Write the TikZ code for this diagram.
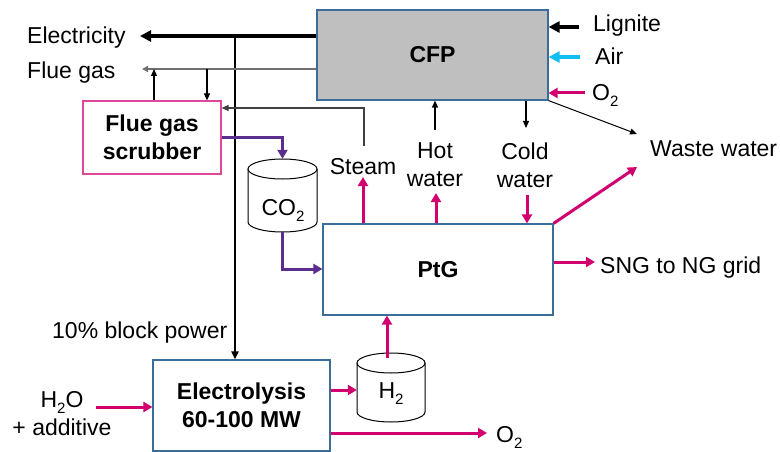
\documentclass[tikz,border=0pt]{standalone}
\usepackage{fontspec}
\setmainfont{Liberation Sans}
\usetikzlibrary{arrows.meta}
\definecolor{boxblue}{HTML}{3A6D99}
\definecolor{pk}{HTML}{D1006E}
\definecolor{pur}{HTML}{5B2E8E}
\definecolor{cy}{HTML}{12BDF0}
\definecolor{cfpgray}{HTML}{BFBFBF}
\definecolor{scrpink}{HTML}{E0479A}
\definecolor{lg}{HTML}{707070}
\definecolor{dg}{HTML}{404040}
\newcommand\myfs{\fontsize{23}{28}\selectfont}
\newcommand\mysub[1]{\raisebox{-6pt}{\fontsize{15}{15}\selectfont #1}}
\newcommand\mycyl[5]{%
 \filldraw[fill=white, draw=black, line width=1pt] ({#1-#2},#3) -- ({#1-#2},#4) .. controls ({#1-#2},{#4+0.5523*#5}) and ({#1-0.5523*#2},{#4+#5}) .. (#1,{#4+#5}) .. controls ({#1+0.5523*#2},{#4+#5}) and ({#1+#2},{#4+0.5523*#5}) .. ({#1+#2},#4) -- ({#1+#2},#3);
 \draw[line width=1pt, fill=white] (#1,#3) ellipse [x radius=#2, y radius=#5];
}
\begin{document}
\begin{tikzpicture}[x=1pt,y=-1pt,
  box/.style={draw=boxblue, line width=1.2pt, inner sep=0, align=center, font=\myfs\bfseries},
  lbl/.style={inner sep=0, font=\myfs, align=center},
  pa/.style={draw=pk, line width=3pt, -{Triangle[length=9pt,width=10pt]}},
  pua/.style={draw=pur, line width=3pt, -{Triangle[length=9pt,width=10pt]}},
  ta/.style={draw=black, line width=1.2pt, -{Triangle[length=7pt,width=6pt]}},
  tka/.style={line width=3.5pt, -{Triangle[length=11pt,width=11pt]}},
  hold/.style={inner sep=0, draw=none}
]
\useasboundingbox (0,0) rectangle (780,452);

% boxes
\node[box, fill=cfpgray, minimum width=231, minimum height=90] (cfp) at (432.5,55) {CFP};
\node[box, draw=scrpink, minimum width=138, minimum height=73] (scrub) at (152,137.5) {Flue gas\\scrubber};
\node[box, minimum width=230, minimum height=91] (ptg) at (438,269.5) {PtG};
\node[box, minimum width=177, minimum height=91] (elyz) at (241.5,405.5) {Electrolysis\\60-100 MW};

% cylinders
\mycyl{282.5}{34.5}{169}{222}{10}
\node[hold, minimum width=69, minimum height=73] (co2) at (282.5,195.5) {};
\mycyl{391}{34}{363}{412}{10}
\node[hold, minimum width=68, minimum height=69] (h2) at (391,387.5) {};

% labels
\node[lbl, anchor=base west] (lelec) at (27,44) {Electricity};
\node[lbl, anchor=base west] (lflue) at (27,78) {Flue gas};
\node[lbl, anchor=base west] (llig) at (593,32) {Lignite};
\node[lbl, anchor=base west] (lair) at (595,65) {Air};
\node[lbl, anchor=base west] (lo2r) at (592,100) {O\mysub{2}};
\node[lbl, anchor=base west] (lww) at (650,157) {Waste water};
\node[lbl, anchor=base] (lsteam) at (363,174) {Steam};
\node[lbl] (lhot) at (435,165) {Hot\\water};
\node[lbl] (lcold) at (525,165) {Cold\\water};
\node[lbl, anchor=base] (lco2) at (283,215) {CO\mysub{2}};
\node[lbl, anchor=base west] (lsng) at (600,273) {SNG to NG grid};
\node[lbl, anchor=base west] (lbp) at (52,338) {10\% block power};
\node[lbl, anchor=base] (lh2) at (391,398) {H\mysub{2}};
\node[lbl] (lh2o) at (62,414) {H\mysub{2}O\\+ additive};
\node[lbl, anchor=base west] (lo2b) at (496,442) {O\mysub{2}};

% coordinates
\coordinate (el) at (140,36);
\coordinate (j1) at (235,36);
\coordinate (fl) at (142,69);
\coordinate (fu) at (154,69);
\coordinate (fd) at (207,69);
\coordinate (sr1) at (364,146);
\coordinate (sr2) at (364,108);
\coordinate (pA) at (282.5,137);
\coordinate (pB) at (282.5,269);
\coordinate (hw) at (435,130);
\coordinate (cw) at (526,128);
\coordinate (ww1) at (637,134);
\coordinate (ww2) at (637,167);
\coordinate (st) at (363,177);
\coordinate (hw2) at (436,193);
\coordinate (cw2) at (527,195);
\coordinate (sng) at (595,262);
\coordinate (lig) at (579,27);
\coordinate (air) at (580,57);
\coordinate (o2r) at (585,93);
\coordinate (o2b) at (487,433);
\coordinate (h2o) at (96,407);
\coordinate (hA) at (387,358);
\coordinate (hB) at (357,390);

% connectors
\draw[tka] (cfp.west |- el) -- (el);
\draw[line width=2pt, -{Triangle[length=8pt,width=7pt]}] (j1) -- (elyz.north -| j1);
\draw[draw=lg, line width=1.5pt, -{Triangle[length=6pt,width=6pt]}] (cfp.west |- fl) -- (fl);
\draw[ta] (scrub.north -| fu) -- (fu);
\draw[ta] (fd) -- (scrub.north -| fd);
\draw[ta, draw=dg] (sr1) -- (sr2) -- (scrub.east |- sr2);
\draw[pua] (scrub.east |- pA) -- (pA) -- (co2.north);
\draw[pua] (co2.south) -- (pB) -- (ptg.west |- pB);
\draw[tka] (lig) -- (cfp.east |- lig);
\draw[tka, draw=cy, fill=cy] (air) -- (cfp.east |- air);
\draw[pa] (o2r) -- (cfp.east |- o2r);
\draw[ta] (hw) -- (cfp.south -| hw);
\draw[ta] (cfp.south -| cw) -- (cw);
\draw[ta, line width=1pt] (cfp.south east) -- (ww1);
\draw[pa] (ptg.north east) -- (ww2);
\draw[pa] (ptg.north -| st) -- (st);
\draw[pa] (ptg.north -| hw2) -- (hw2);
\draw[pa] (cw2) -- (ptg.north -| cw2);
\draw[pa] (ptg.east |- sng) -- (sng);
\draw[pa] (hA) -- (ptg.south -| hA);
\draw[pa] (elyz.east |- hB) -- (h2.west |- hB);
\draw[pa] (elyz.east |- o2b) -- (o2b);
\draw[pa] (h2o) -- (elyz.west |- h2o);
\end{tikzpicture}
\end{document}
